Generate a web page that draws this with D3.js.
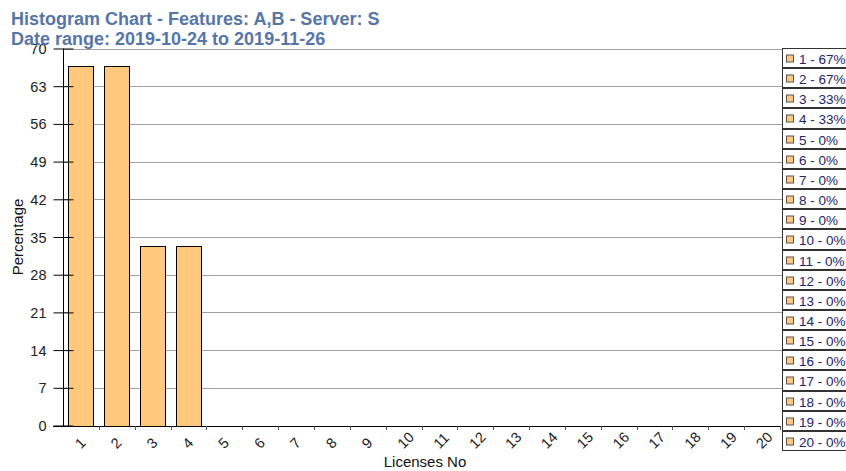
<!DOCTYPE html>
<html>
<head>
<meta charset="utf-8">
<script src="https://cdn.jsdelivr.net/npm/d3@7"></script>
<style>
  html, body { margin: 0; padding: 0; background: #fff; }
  svg { display: block; font-family: "Liberation Sans", Arial, sans-serif; }
</style>
</head>
<body>
<svg id="chart" width="846" height="471"></svg>
<script>
const titleLines = ["Histogram Chart - Features: A,B - Server: S", "Date range: 2019-10-24 to 2019-11-26"];
const categories = ["1","2","3","4","5","6","7","8","9","10","11","12","13","14","15","16","17","18","19","20"];
const values = [66.67, 66.67, 33.33, 33.33, 0, 0, 0, 0, 0, 0, 0, 0, 0, 0, 0, 0, 0, 0, 0, 0];
const legendLabels = ["1 - 67%","2 - 67%","3 - 33%","4 - 33%","5 - 0%","6 - 0%","7 - 0%","8 - 0%","9 - 0%","10 - 0%","11 - 0%","12 - 0%","13 - 0%","14 - 0%","15 - 0%","16 - 0%","17 - 0%","18 - 0%","19 - 0%","20 - 0%"];
const yTicks = [0, 7, 14, 21, 28, 35, 42, 49, 56, 63, 70];
const xAxisTitle = "Licenses No";
const yAxisTitle = "Percentage";

const svg = d3.select("#chart");
const plot = { left: 63, right: 780, top: 48.5, bottom: 425.5 };

const xb = d3.scaleBand().domain(categories).range([plot.left, plot.right]).padding(0);
const y = d3.scaleLinear().domain([0, 70]).range([plot.bottom, plot.top]);

// gridlines
svg.append("g").selectAll("line").data(yTicks.filter(d => d > 0)).join("line")
  .attr("x1", plot.left).attr("x2", plot.right + 2)
  .attr("y1", d => Math.round(y(d)) + 0.5).attr("y2", d => Math.round(y(d)) + 0.5)
  .attr("stroke", "#a0a0a0").attr("stroke-width", 1);

// bars
svg.append("g").selectAll("rect").data(categories.map((c, i) => ({c, v: values[i]})).filter(d => d.v > 0)).join("rect")
  .attr("x", d => Math.round(xb(d.c) + 5) + 0.5)
  .attr("width", Math.round(xb.bandwidth() - 11))
  .attr("y", d => Math.round(y(d.v)) + 0.5)
  .attr("height", d => Math.round(y(0)) - Math.round(y(d.v)))
  .attr("fill", "#ffc87c").attr("stroke", "#000").attr("stroke-width", 1);

// y axis
const yAxis = d3.axisLeft(y).tickValues(yTicks).tickSize(0).tickPadding(0);
const yg = svg.append("g").attr("transform", `translate(${plot.left + 0.5},0)`).call(yAxis);
yg.select(".domain").remove();
yg.selectAll(".tick line").remove();
yg.selectAll(".tick").append("line")
  .attr("x1", -10).attr("x2", 10).attr("y1", 0).attr("y2", 0)
  .attr("stroke", "#000");
yg.selectAll(".tick text").attr("x", -17).attr("dy", "0.35em")
  .attr("font-size", 14.5).attr("font-family", "Liberation Sans, Arial, sans-serif").attr("fill", "#222");
svg.append("line").attr("x1", plot.left + 0.5).attr("x2", plot.left + 0.5)
  .attr("y1", plot.top).attr("y2", plot.bottom + 0.5).attr("stroke", "#000");

// x axis
svg.append("line").attr("x1", plot.left - 10).attr("x2", plot.right)
  .attr("y1", Math.round(plot.bottom) + 0.5).attr("y2", Math.round(plot.bottom) + 0.5).attr("stroke", "#000");
svg.append("g").selectAll("line").data(categories).join("line")
  .attr("x1", d => Math.round(xb(d) + xb.bandwidth()) + 0.5)
  .attr("x2", d => Math.round(xb(d) + xb.bandwidth()) + 0.5)
  .attr("y1", Math.round(plot.bottom)).attr("y2", Math.round(plot.bottom) + 4)
  .attr("stroke", "#555");
svg.append("g").selectAll("text").data(categories).join("text")
  .attr("transform", d => `translate(${xb(d) + xb.bandwidth() / 2},${plot.bottom + 24}) rotate(-45)`)
  .attr("text-anchor", "start")
  .attr("font-size", 14.5).attr("fill", "#222")
  .text(d => d);

// axis titles
svg.append("text").attr("x", 425).attr("y", 467).attr("text-anchor", "middle")
  .attr("font-size", 15).attr("fill", "#111").text(xAxisTitle);
svg.append("text").attr("transform", `translate(23,237) rotate(-90)`).attr("text-anchor", "middle")
  .attr("font-size", 15).attr("fill", "#111").text(yAxisTitle);

// title
svg.append("g").selectAll("text").data(titleLines).join("text")
  .attr("x", 11).attr("y", (d, i) => 25 + i * 20)
  .attr("font-size", 18).attr("font-weight", "bold").attr("fill", "#5676a8")
  .text(d => d);

// legend
const rowY = i => Math.round(48 + i * 20.15);
const lg = svg.append("g").selectAll("g").data(legendLabels).join("g")
  .attr("transform", (d, i) => `translate(782.5,${rowY(i) + 0.5})`);
lg.append("rect").attr("x", 0).attr("y", 0).attr("width", 70)
  .attr("height", (d, i) => rowY(i + 1) - rowY(i) - 1)
  .attr("fill", "#fff").attr("stroke", "#333");
lg.append("rect").attr("x", 4).attr("y", 6.5).attr("width", 7).attr("height", 7)
  .attr("fill", "#ffc87c").attr("stroke", "#555");
lg.append("text").attr("x", 16.5).attr("y", 15)
  .attr("font-size", 13.5).attr("fill", "#23236c").text(d => d);
</script>
</body>
</html>
